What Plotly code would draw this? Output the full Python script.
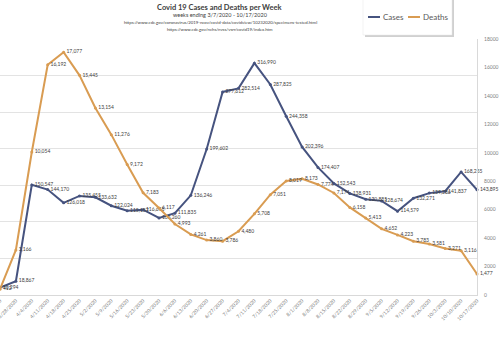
import plotly.graph_objects as go

weeks = ["3/21/2020", "3/28/2020", "4/4/2020", "4/11/2020", "4/18/2020", "4/25/2020",
         "5/2/2020", "5/9/2020", "5/16/2020", "5/23/2020", "5/30/2020", "6/6/2020",
         "6/13/2020", "6/20/2020", "6/27/2020", "7/4/2020", "7/11/2020", "7/18/2020",
         "7/25/2020", "8/1/2020", "8/8/2020", "8/15/2020", "8/22/2020", "8/29/2020",
         "9/5/2020", "9/12/2020", "9/19/2020", "9/26/2020", "10/3/2020", "10/10/2020",
         "10/17/2020"]

cases = [10294, 18867, 150547, 144170, 126018, 135455, 133632, 122024, 115157, 116618,
         105260, 111835, 136246, 199602, 277612, 282514, 316990, 287825, 244358, 202396,
         174407, 152543, 138931, 130885, 128674, 114579, 132271, 139286, 141837, 168255,
         143895]

deaths = [412, 3166, 10054, 16192, 17077, 15445, 13154, 11276, 9172, 7183,
          6117, 4993, 4261, 3860, 3786, 4480, 5708, 7051, 8019, 8173,
          7774, 7174, 6158, 5413, 4652, 4223, 3783, 3581, 3271, 3116,
          1477]

deaths_ticks = [0, 2000, 4000, 6000, 8000, 10000, 12000, 14000, 16000, 18000]

BLUE = "#46537f"
ORANGE = "#d99c52"
FONT = "Lato"

fig = go.Figure()
fig.add_trace(go.Scatter(
    x=weeks, y=cases, name="Cases", mode="lines+markers+text",
    line=dict(color=BLUE, width=2), marker=dict(size=3, color=BLUE),
    text=[f"{v:,}" for v in cases], textposition="middle right",
    textfont=dict(size=5, color="#404040", family=FONT), cliponaxis=False,
    showlegend=False))
fig.add_trace(go.Scatter(
    x=weeks, y=deaths, name="Deaths", yaxis="y2", mode="lines+markers+text",
    line=dict(color=ORANGE, width=2), marker=dict(size=3, color=ORANGE),
    text=[f"{v:,}" for v in deaths], textposition="middle right",
    textfont=dict(size=5, color="#404040", family=FONT), cliponaxis=False,
    showlegend=False))

# pixel helpers for paper coordinates (plot area: x 0..477, y 39..295)
def px(x):
    return x / 477.0

def py(y):
    return (295.0 - y) / 256.0

annotations = [
    dict(text="<b>Covid 19 Cases and Deaths per Week</b>", x=px(220), y=py(7),
         font=dict(size=7.5, color="#404040", family=FONT)),
    dict(text="weeks ending 3/7/2020 - 10/17/2020", x=px(220), y=py(15),
         font=dict(size=5.5, color="#404040", family=FONT)),
    dict(text="https://www.cdc.gov/coronavirus/2019-ncov/covid-data/covidview/10232020/specimens-tested.html",
         x=px(220), y=py(22), font=dict(size=4.3, color="#404040", family=FONT)),
    dict(text="https://www.cdc.gov/nchs/nvss/vsrr/covid19/index.htm",
         x=px(220), y=py(29), font=dict(size=4.3, color="#404040", family=FONT)),
    dict(text="Cases", x=px(381), y=py(17), xanchor="left",
         font=dict(size=8, color="#595959", family=FONT)),
    dict(text="Deaths", x=px(421), y=py(17), xanchor="left",
         font=dict(size=8, color="#595959", family=FONT)),
]
for a in annotations:
    a.update(xref="paper", yref="paper", showarrow=False, yanchor="middle")
    a.setdefault("xanchor", "center")

shapes = [
    dict(type="rect", x0=px(365), x1=px(454), y0=py(-2), y1=py(37),
         fillcolor="#d0d0d0", line=dict(width=0)),
    dict(type="rect", x0=px(363), x1=px(452), y0=py(-2), y1=py(35),
         fillcolor="white", line=dict(color="#e6e6e6", width=0.5)),
    dict(type="line", x0=px(368), x1=px(380), y0=py(17), y1=py(17),
         line=dict(color=BLUE, width=2)),
    dict(type="line", x0=px(408), x1=px(420), y0=py(17), y1=py(17),
         line=dict(color=ORANGE, width=2)),
]
for s in shapes:
    s.update(xref="paper", yref="paper", layer="above")

fig.update_layout(
    width=500, height=340,
    margin=dict(l=0, r=23, t=39, b=45),
    paper_bgcolor="white", plot_bgcolor="white",
    font=dict(family=FONT, color="#595959"),
    xaxis=dict(type="category", range=[0, len(weeks) - 1], tickangle=-45,
               tickfont=dict(size=5, color="#7f7f7f"), showgrid=False,
               showline=True, linecolor="#d9d9d9", linewidth=1,
               automargin=False, ticks=""),
    yaxis=dict(range=[0, 350000], dtick=50000, showticklabels=False,
               gridcolor="#e3e3e3", gridwidth=1, zeroline=False,
               automargin=False),
    yaxis2=dict(range=[0, 18000], tickvals=deaths_ticks,
                ticktext=[str(t) for t in deaths_ticks],
                overlaying="y", side="right", showgrid=False, zeroline=False,
                showline=True, linecolor="#d9d9d9", linewidth=1,
                tickfont=dict(size=5, color="#7f7f7f"), ticklabelstandoff=5,
                automargin=False),
    annotations=annotations, shapes=shapes,
)

fig.write_html("out.html")
